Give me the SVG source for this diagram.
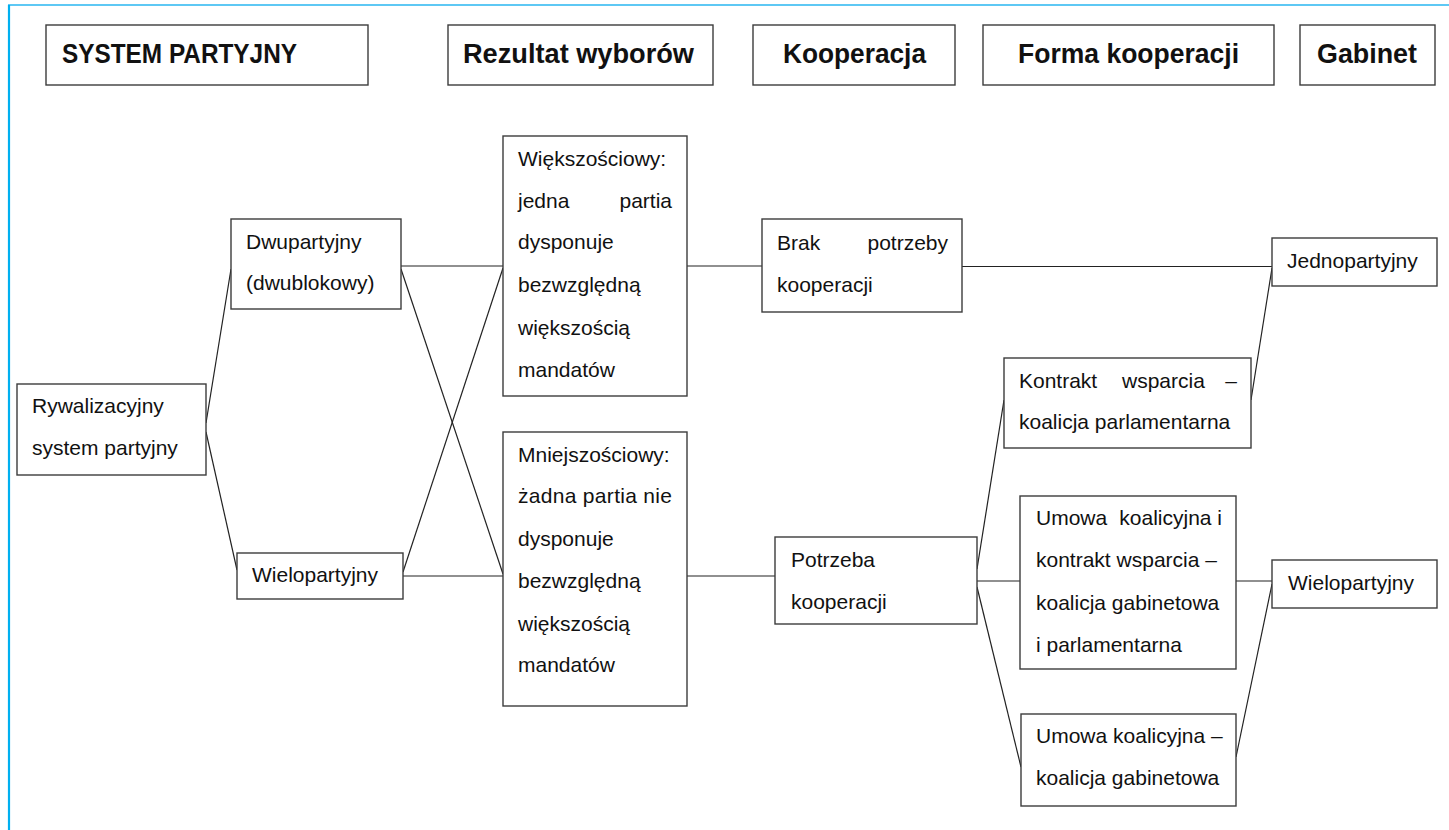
<svg xmlns="http://www.w3.org/2000/svg" width="1449" height="830" viewBox="0 0 1449 830">
<style>
.box{fill:#fff;stroke:#3c3c3c;stroke-width:1.4}
.t{font-family:"Liberation Sans",Arial,sans-serif;font-size:21px;fill:#111}
.h{font-family:"Liberation Sans",Arial,sans-serif;font-size:27px;font-weight:bold;fill:#111}
.c{stroke:#222;stroke-width:1.2;fill:none}
.e{text-anchor:end}
</style>
<rect x="0" y="0" width="1449" height="830" fill="#fff"/>
<g id="frame">
<line x1="8" y1="5" x2="1449" y2="5" stroke="#29b6f0" stroke-width="1.6"/>
<line x1="9" y1="5" x2="9" y2="830" stroke="#00b0f0" stroke-width="2.2"/>
</g>
<g id="connectors">
<line class="c" x1="206" y1="423" x2="231" y2="269"/>
<line class="c" x1="206" y1="432" x2="237" y2="570"/>
<line class="c" x1="401" y1="266" x2="503" y2="266"/>
<line class="c" x1="401" y1="269" x2="503" y2="574"/>
<line class="c" x1="403" y1="572" x2="503" y2="268"/>
<line class="c" x1="403" y1="576" x2="503" y2="576"/>
<line class="c" x1="687" y1="266" x2="762" y2="266"/>
<line class="c" x1="687" y1="576" x2="775" y2="576"/>
<line class="c" x1="962" y1="266.5" x2="1272" y2="266.5"/>
<line class="c" x1="977" y1="569" x2="1004" y2="400"/>
<line class="c" x1="977" y1="581" x2="1020" y2="581"/>
<line class="c" x1="977" y1="587" x2="1021" y2="767"/>
<line class="c" x1="1251" y1="400" x2="1272" y2="268"/>
<line class="c" x1="1236" y1="581" x2="1272" y2="581"/>
<line class="c" x1="1236" y1="757" x2="1272" y2="584"/>
</g>
<g id="h-system"><rect class="box" x="46" y="25" width="322" height="60"/><text class="h" x="62" y="63" textLength="235" lengthAdjust="spacingAndGlyphs">SYSTEM PARTYJNY</text></g>
<g id="h-rezultat"><rect class="box" x="448" y="25" width="265" height="60"/><text class="h" x="463" y="63" textLength="231" lengthAdjust="spacingAndGlyphs">Rezultat wyborów</text></g>
<g id="h-kooperacja"><rect class="box" x="753" y="25" width="202" height="60"/><text class="h" x="783" y="63" textLength="143" lengthAdjust="spacingAndGlyphs">Kooperacja</text></g>
<g id="h-forma"><rect class="box" x="983" y="25" width="291" height="60"/><text class="h" x="1018" y="63" textLength="221" lengthAdjust="spacingAndGlyphs">Forma kooperacji</text></g>
<g id="h-gabinet"><rect class="box" x="1300" y="25" width="135" height="60"/><text class="h" x="1317" y="63" textLength="100" lengthAdjust="spacingAndGlyphs">Gabinet</text></g>
<g id="rywalizacyjny"><rect class="box" x="17" y="384" width="189" height="91"/><text class="t" x="32" y="413">Rywalizacyjny</text><text class="t" x="32" y="455">system partyjny</text></g>
<g id="dwupartyjny"><rect class="box" x="231" y="219" width="170" height="90"/><text class="t" x="246" y="249">Dwupartyjny</text><text class="t" x="246" y="290">(dwublokowy)</text></g>
<g id="wielopartyjny-sys"><rect class="box" x="237" y="553" width="166" height="46"/><text class="t" x="252" y="582">Wielopartyjny</text></g>
<g id="wiekszosciowy"><rect class="box" x="503" y="136" width="184" height="260"/>
<text class="t" x="518" y="166">Większościowy:</text>
<text class="t" x="518" y="208">jedna</text><text class="t e" x="672" y="208">partia</text>
<text class="t" x="518" y="249">dysponuje</text>
<text class="t" x="518" y="292">bezwzględną</text>
<text class="t" x="518" y="335">większością</text>
<text class="t" x="518" y="377">mandatów</text></g>
<g id="mniejszosciowy"><rect class="box" x="503" y="432" width="184" height="274"/>
<text class="t" x="518" y="462">Mniejszościowy:</text>
<text class="t" x="518" y="503" textLength="154" lengthAdjust="spacing">żadna partia nie</text>
<text class="t" x="518" y="546">dysponuje</text>
<text class="t" x="518" y="588">bezwzględną</text>
<text class="t" x="518" y="631">większością</text>
<text class="t" x="518" y="672">mandatów</text></g>
<g id="brak"><rect class="box" x="762" y="219" width="200" height="93"/><text class="t" x="777" y="250">Brak</text><text class="t e" x="948" y="250">potrzeby</text><text class="t" x="777" y="292">kooperacji</text></g>
<g id="potrzeba"><rect class="box" x="775" y="537" width="202" height="87"/><text class="t" x="791" y="567">Potrzeba</text><text class="t" x="791" y="609">kooperacji</text></g>
<g id="kontrakt"><rect class="box" x="1004" y="358" width="247" height="90"/><text class="t" x="1019" y="388">Kontrakt</text><text class="t" x="1122" y="388">wsparcia</text><text class="t e" x="1237" y="388">–</text><text class="t" x="1019" y="429">koalicja parlamentarna</text></g>
<g id="umowa-kontrakt"><rect class="box" x="1020" y="496" width="216" height="173"/>
<text class="t" x="1036" y="525">Umowa</text><text class="t e" x="1222" y="525">koalicyjna i</text>
<text class="t" x="1036" y="567">kontrakt wsparcia –</text>
<text class="t" x="1036" y="610">koalicja gabinetowa</text>
<text class="t" x="1036" y="652">i parlamentarna</text></g>
<g id="umowa"><rect class="box" x="1021" y="714" width="215" height="92"/><text class="t" x="1036" y="743">Umowa koalicyjna –</text><text class="t" x="1036" y="785">koalicja gabinetowa</text></g>
<g id="jednopartyjny"><rect class="box" x="1272" y="238" width="165" height="48"/><text class="t" x="1287" y="268">Jednopartyjny</text></g>
<g id="wielopartyjny-gab"><rect class="box" x="1272" y="560" width="165" height="48"/><text class="t" x="1288" y="590">Wielopartyjny</text></g>
</svg>
